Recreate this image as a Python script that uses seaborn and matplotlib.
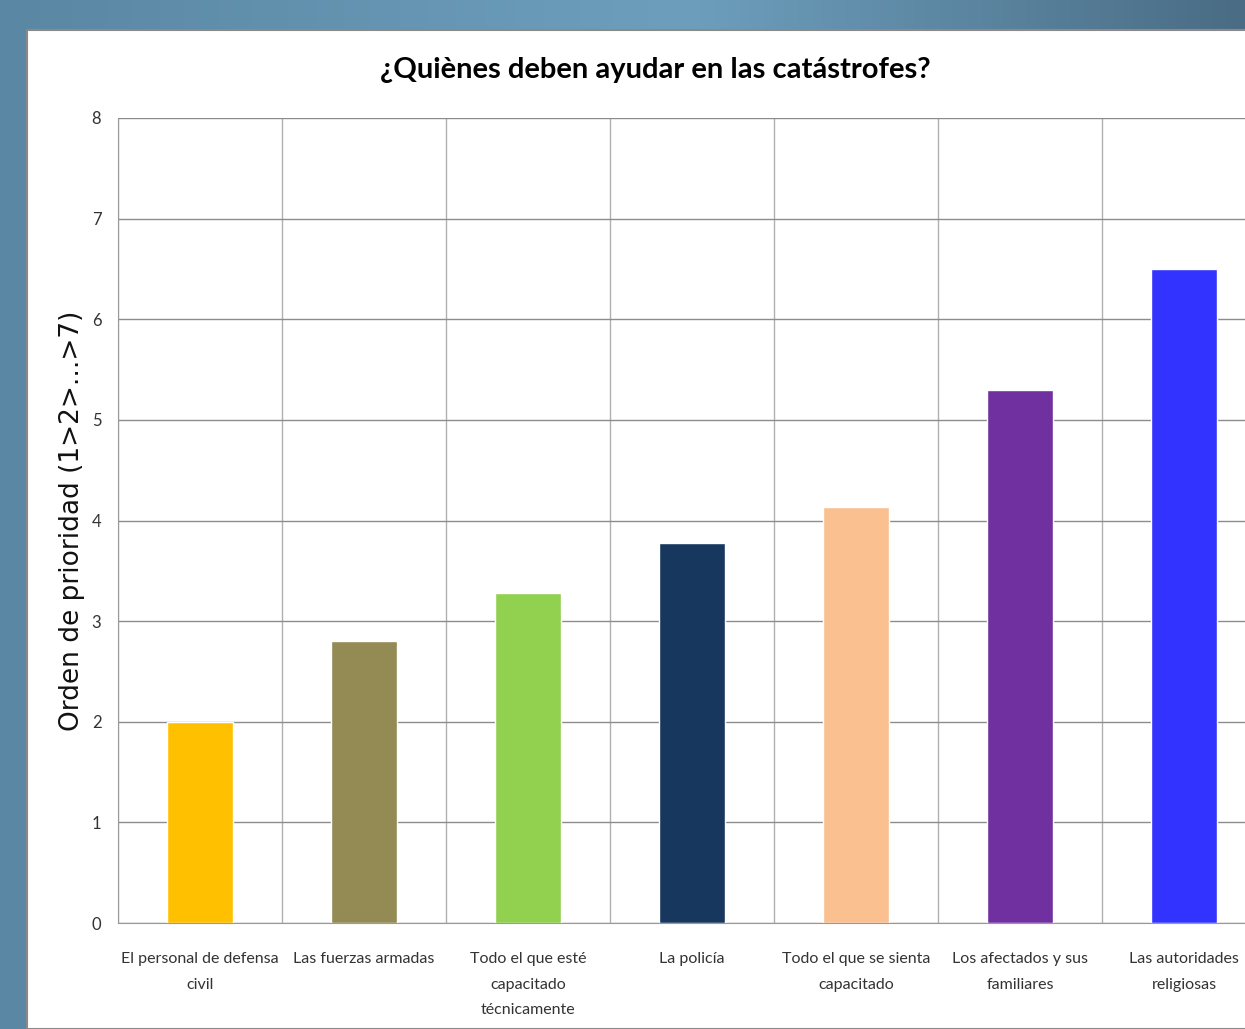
import numpy as np
import pandas as pd
import matplotlib.pyplot as plt
import seaborn as sns
from matplotlib.patches import Rectangle

# Data
categorias = ['El personal de defensa\ncivil', 'Las fuerzas armadas',
              'Todo el que esté\ncapacitado\ntécnicamente', 'La policía',
              'Todo el que se sienta\ncapacitado', 'Los afectados y sus\nfamiliares',
              'Las autoridades\nreligiosas']
prioridad = [2.0, 2.8, 3.28, 3.78, 4.13, 5.3, 6.5]
colores = ['#FFC000', '#948A54', '#92D050', '#17375E', '#FAC090', '#7030A0', '#3333FF']
y_ticks = [0, 1, 2, 3, 4, 5, 6, 7, 8]

df = pd.DataFrame({'categoria': categorias, 'prioridad': prioridad})

sns.set_style('white')
fig = plt.figure(figsize=(12.45, 10.29), dpi=100)

# ___ background: blue slide frame with white panel ___
bg = fig.add_axes([0, 0, 1, 1], zorder=0)
grad = np.linspace(0, 1, 256)
left_c = np.array([0x5a, 0x87, 0xa3]) / 255
mid_c = np.array([0x6d, 0x9f, 0xbd]) / 255
right_c = np.array([0x4a, 0x6c, 0x85]) / 255
row = np.where(grad[:, None] < 0.55,
               left_c + (mid_c - left_c) * (grad[:, None] / 0.55),
               mid_c + (right_c - mid_c) * ((grad[:, None] - 0.55) / 0.45))
bg.imshow(row[None, :, :], aspect='auto', extent=[0, 1, 0, 1])
bg.add_patch(Rectangle((27 / 1245, 0), 1, 1 - 30 / 1029, facecolor='white',
                       edgecolor='#8a8a8a', linewidth=1.5))
bg.set_xlim(0, 1)
bg.set_ylim(0, 1)
bg.axis('off')

# ___ bar chart ___
ax = fig.add_axes([118 / 1245, 106 / 1029, 1148 / 1245, 805 / 1029], zorder=1)
ax.patch.set_alpha(0)
sns.barplot(data=df, x='categoria', y='prioridad', hue='categoria',
            palette=colores, width=0.4, legend=False, ax=ax, saturation=1)

ax.set_xlim(-0.5, len(categorias) - 0.5)
ax.set_ylim(0, 8)
ax.set_yticks(y_ticks)
ax.set_xticks(np.arange(len(categorias) + 1) - 0.5, minor=True)
ax.set_xticks(np.arange(len(categorias)))
ax.set_xticklabels(categorias, fontsize=11.5, family='Lato',
                   color='#333333', linespacing=2.05)
ax.tick_params(axis='x', which='major', length=0, pad=21)
ax.tick_params(axis='x', which='minor', length=7, color='#aaaaaa', direction='out')
ax.tick_params(axis='y', length=5, color='#888888', direction='out', pad=7,
               labelsize=12, labelcolor='#333333')
for lbl in ax.get_yticklabels():
    lbl.set_family('Lato')

ax.grid(True, axis='y', color='#8c8c8c', linewidth=1)
ax.grid(True, axis='x', which='minor', color='#b0b0b0', linewidth=1)
ax.set_axisbelow(True)
for side in ['top', 'right']:
    ax.spines[side].set_visible(False)
ax.spines['left'].set_color('#999999')
ax.spines['bottom'].set_color('#999999')

ax.set_xlabel('')
ax.set_ylabel('Orden de prioridad (1>2>...>7)', fontsize=19, family='DejaVu Sans',
              color='#111111', labelpad=5)
fig.text(655 / 1245, 1 - 70 / 1029, '¿Quiènes deben ayudar en las catástrofes?',
         ha='center', va='center', fontsize=21, fontweight='bold', family='Lato',
         color='black')

plt.savefig('out.png', dpi=100)
plt.close()
